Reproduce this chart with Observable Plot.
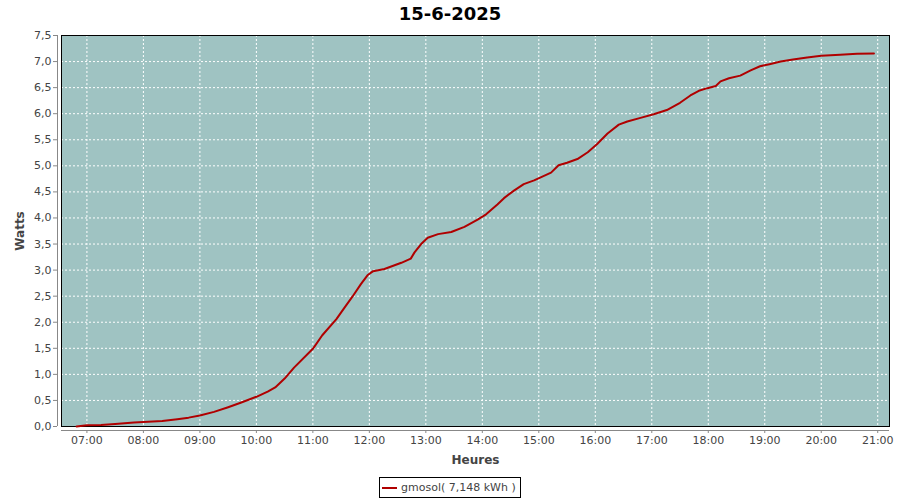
<!DOCTYPE html>
<html>
<head>
<meta charset="utf-8">
<script src="https://cdn.jsdelivr.net/npm/d3@7"></script>
<script src="https://cdn.jsdelivr.net/npm/@observablehq/plot@0.6"></script>
<style>
  html, body { margin: 0; padding: 0; background: white; }
  #wrap { position: relative; width: 900px; height: 500px; font-family: "DejaVu Sans", sans-serif; }
  #title { position: absolute; left: 0; top: 0; width: 900px; height: 26px; line-height: 27px; text-align: center; font-weight: bold; font-size: 18px; color: #000; }
  #chart { position: absolute; left: 0; top: 30px; }
  #legend { position: absolute; left: 379px; top: 477px; width: 140px; height: 19px; border: 1px solid #000; font-size: 11px; color: #444; line-height: 19px; white-space: nowrap; }
  #legend .sw { position: absolute; left: 2px; top: 9px; width: 15px; height: 2px; background: #b00000; }
  #legend .lbl { position: absolute; left: 21px; top: 0; }
</style>
</head>
<body>
<div id="wrap">
  <div id="title">15-6-2025</div>
  <div id="chart"></div>
  <div id="legend"><span class="sw"></span><span class="lbl">gmosol( 7,148 kWh )</span></div>
</div>
<script>
const times = ["06:49","07:00","07:15","07:30","07:50","08:00","08:20","08:36","08:48","09:00","09:15","09:30","09:44","10:00","10:12","10:20","10:30","10:40","11:00","11:10","11:25","11:34","11:42","11:51","11:58","12:04","12:16","12:34","12:44","12:48","12:55","13:02","13:13","13:27","13:41","13:55","14:04","14:16","14:23","14:34","14:44","14:55","15:02","15:13","15:21","15:30","15:41","15:52","16:02","16:13","16:25","16:34","16:48","17:02","17:16","17:30","17:41","17:50","17:59","18:08","18:13","18:22","18:34","18:45","18:55","19:05","19:17","19:30","19:45","20:00","20:20","20:38","20:56"];
const watts = [0.0,0.025,0.03,0.05,0.075,0.085,0.105,0.14,0.17,0.21,0.28,0.37,0.46,0.57,0.67,0.75,0.92,1.13,1.49,1.75,2.06,2.29,2.49,2.73,2.90,2.98,3.02,3.14,3.22,3.34,3.50,3.62,3.69,3.73,3.83,3.97,4.07,4.26,4.38,4.53,4.65,4.72,4.78,4.87,5.01,5.06,5.13,5.26,5.42,5.62,5.79,5.85,5.92,5.99,6.07,6.21,6.35,6.44,6.49,6.53,6.62,6.68,6.73,6.83,6.91,6.95,7.00,7.04,7.08,7.11,7.13,7.15,7.155];
const xTickLabels = ["07:00","08:00","09:00","10:00","11:00","12:00","13:00","14:00","15:00","16:00","17:00","18:00","19:00","20:00","21:00"];
const yTicks = [0,0.5,1,1.5,2,2.5,3,3.5,4,4.5,5,5.5,6,6.5,7,7.5];
const xDomainLabels = ["06:33:00","21:12:30"];

function toDate(t) {
  const [h, m, s] = t.split(":").map(Number);
  return new Date(Date.UTC(2025, 5, 15, h, m, s || 0));
}
const data = times.map((t, i) => ({date: toDate(t), watts: watts[i]}));
const xTicks = xTickLabels.map(toDate);
const xDomain = xDomainLabels.map(toDate);
const grid = {stroke: "white", strokeOpacity: 1, strokeWidth: 1, strokeDasharray: "2,2"};

const chart = Plot.plot({
  width: 900, height: 440,
  marginLeft: 61, marginRight: 11, marginTop: 5, marginBottom: 44,
  style: {fontFamily: "DejaVu Sans", fontSize: "11px", color: "#444", background: "transparent", overflow: "visible"},
  x: {type: "utc", domain: xDomain},
  y: {domain: [0, 7.5]},
  marks: [
    Plot.frame({fill: "#9fc3c2", stroke: null}),
    Plot.gridX(xTicks, grid),
    Plot.gridY(yTicks, grid),
    Plot.frame({stroke: "black", strokeWidth: 1}),
    Plot.ruleY([0], {dy: 4, stroke: "#888"}),
    Plot.ruleX([xDomain[0]], {dx: -4, stroke: "#888"}),
    Plot.axisX(xTicks, {tickFormat: d3.utcFormat("%H:%M"), tickSize: 3, dy: 4, tickPadding: 3, label: null, stroke: "#888", fill: "#444"}),
    Plot.axisY(yTicks, {tickFormat: d => d.toFixed(1).replace(".", ","), tickSize: 4, dx: -4, tickPadding: 2, label: null, stroke: "#888", fill: "#444"}),
    Plot.lineY(data, {x: "date", y: "watts", stroke: "#b00000", strokeWidth: 2}),
    Plot.text(["Watts"], {frameAnchor: "left", rotate: -90, dx: -41, fontWeight: "bold", fontSize: 12, textAnchor: "middle", fill: "#444"}),
    Plot.text(["Heures"], {frameAnchor: "bottom", dy: 34, fontWeight: "bold", fontSize: 12, lineAnchor: "middle", fill: "#444"})
  ]
});
document.getElementById("chart").appendChild(chart);
</script>
</body>
</html>
